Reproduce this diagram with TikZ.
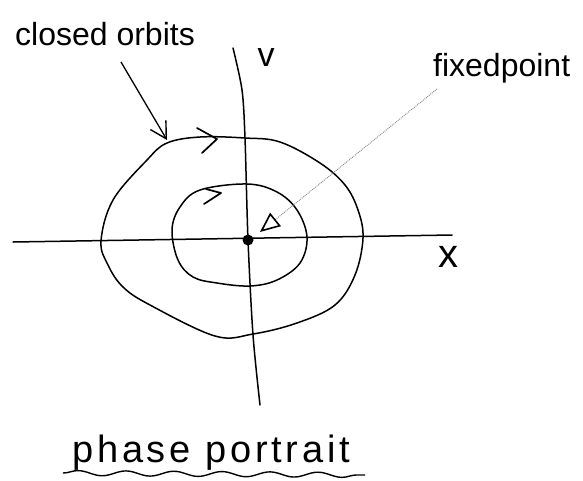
\documentclass[tikz,border=0pt]{standalone}
\usepackage{fontspec}
\setmainfont{Liberation Sans}
\usetikzlibrary{arrows.meta,decorations.pathmorphing}
\begin{document}
\begin{tikzpicture}[x=1pt,y=-1pt,
  curve/.style={line width=1.5pt, line join=round, line cap=round},
  lbl/.style={inner sep=0pt, anchor=base west},
  chev/.style={line width=1.7pt, line cap=round, line join=round}]
\useasboundingbox (0,0) rectangle (583,480);
% axes
\coordinate (xl) at (13,242);
\coordinate (xr) at (452,235);
\draw[curve] (xl) -- (xr);
\draw[curve] plot[smooth] coordinates {(233,48) (242,90) (245,138) (248,240) (253,335) (260,405)};
% outer orbit
\draw[curve] plot[smooth cycle, tension=0.6] coordinates {(101,241) (113,200) (147,160) (167,143) (200,137) (245,138) (280,142) (320,163) (345,185) (358,210) (363,238) (355,275) (335,305) (297,323) (253,334) (215,336) (150,305) (123,287) (108,265)};
% inner orbit
\draw[curve] plot[smooth cycle, tension=0.6] coordinates {(172,230) (180,207) (200,190) (247,184) (277,192) (297,210) (307,237) (300,263) (277,280) (250,286) (217,283) (193,277) (178,260)};
% chevrons
\draw[chev] (197,128) -- (217,139) -- (202,153);
\draw[chev] (206,189) -- (221,193) -- (204,204);
% fixed point
\node[circle, fill, inner sep=0pt, minimum size=11pt] (fp) at (248,240) {};
% labels
\node[lbl, font=\fontsize{32}{34}\selectfont] (co) at (15,45) {closed orbits};
\node[lbl, font=\fontsize{32}{34}\selectfont] (fpl) at (433,76) {fixedpoint};
\node[font=\fontsize{34}{36}\selectfont, inner sep=0pt] (vl) at (266,58) {v};
\node[font=\fontsize{40}{42}\selectfont, inner sep=0pt] (xlab) at (448,257) {x};
\node[lbl, font=\fontsize{38}{40}\selectfont\addfontfeatures{LetterSpace=10}] (pp) at (72,462) {phase portrait};
% arrows
\coordinate (coa) at (121,62);
\coordinate (cob) at (167,140);
\draw[line width=1.3pt, -{Straight Barb[length=16pt,width=18pt,line width=1.4pt]}] (coa) -- (cob);
\coordinate (fpa) at (437,89);
\coordinate (fpt) at (260,232);
\draw[gray, densely dotted, line width=0.9pt, -{Triangle[open,length=20pt,width=17pt,color=black,line width=1.6pt]}] (fpa) -- (fpt);
% wavy underline
\coordinate (ul) at (63,473);
\coordinate (ur) at (365,475);
\draw[line width=1.4pt, decorate, decoration={snake, segment length=48pt, amplitude=2.5pt}] (ul) -- (ur);
\end{tikzpicture}
\end{document}
